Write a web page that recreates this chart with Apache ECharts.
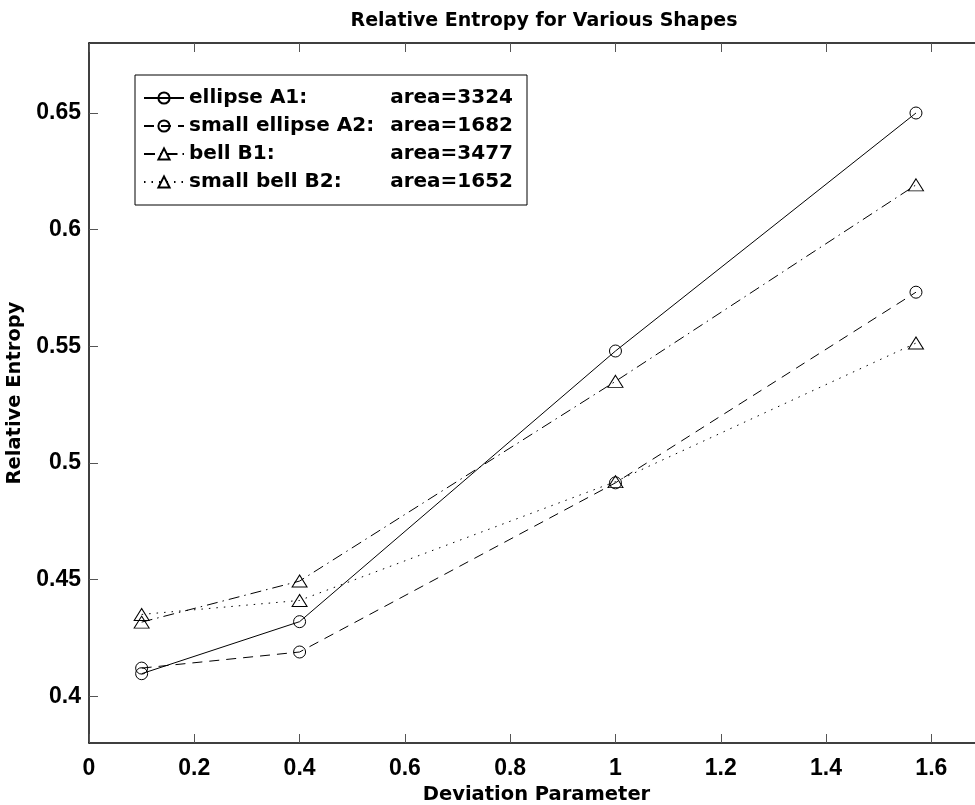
<!DOCTYPE html>
<html>
<head>
<meta charset="utf-8">
<script src="https://cdn.jsdelivr.net/npm/echarts@6/dist/echarts.min.js"></script>
<style>
  html, body { margin: 0; padding: 0; background: #fff; }
  #chart { width: 975px; height: 805px; }
</style>
</head>
<body>
<div id="chart"></div>
<script>
// deviation parameter values (x)
var devParam = [0.1, 0.4, 1.0, 1.5708];

// relative entropy per shape
var ellipseA1 = [0.4097, 0.432, 0.548, 0.650];
var smallEllipseA2 = [0.4121, 0.419, 0.4915, 0.5732];
var bellB1 = [0.4318, 0.4494, 0.535, 0.6192];
var smallBellB2 = [0.4351, 0.4411, 0.4920, 0.5514];

var seriesNames = ['ellipse A1:', 'small ellipse A2:', 'bell B1:', 'small bell B2:'];
var seriesAreas = ['area=3324', 'area=1682', 'area=3477', 'area=1652'];

var xTicks = [0, 0.2, 0.4, 0.6, 0.8, 1, 1.2, 1.4, 1.6];
var yTicks = [0.4, 0.45, 0.5, 0.55, 0.6, 0.65];

var FONT = 'Liberation Sans';
var WIDE = 'DejaVu Sans';

function pairs(ys) {
    var out = [];
    for (var i = 0; i < devParam.length; i++) out.push([devParam[i], ys[i]]);
    return out;
}

function makeSeries(idx, ys, dash, symbol, size) {
    return {
        name: seriesNames[idx],
        type: 'line',
        data: pairs(ys),
        symbol: symbol,
        symbolSize: size,
        showAllSymbol: true,
        lineStyle: { color: '#000', width: 1, type: dash },
        itemStyle: { color: 'rgba(0,0,0,0)', borderColor: '#000', borderWidth: 1 }
    };
}

var chart = echarts.init(document.getElementById('chart'));

var option = {
    backgroundColor: '#fff',
    animation: false,
    title: {
        text: 'Relative Entropy for Various Shapes',
        left: 539,
        top: 7,
        textAlign: 'center',
        textStyle: { fontFamily: WIDE, fontWeight: 'bold', fontSize: 19, color: '#000' }
    },
    legend: {
        orient: 'vertical',
        left: 135,
        top: 75,
        padding: [13, 14, 13, 8],
        itemGap: 8,
        itemWidth: 40,
        itemHeight: 14,
        backgroundColor: '#fff',
        borderColor: '#000',
        borderWidth: 1,
        borderRadius: 0,
        data: seriesNames,
        formatter: function (name) {
            var i = seriesNames.indexOf(name);
            return '{a|' + name + '}{b|' + seriesAreas[i] + '}';
        },
        textStyle: {
            fontFamily: WIDE,
            fontWeight: 'bold',
            fontSize: 20,
            color: '#000',
            rich: {
                a: { fontFamily: WIDE, fontWeight: 'bold', fontSize: 20, width: 198 },
                b: { fontFamily: WIDE, fontWeight: 'bold', fontSize: 20, width: 126, align: 'right' }
            }
        }
    },
    grid: {
        left: 89,
        top: 43,
        width: 895,
        height: 700,
        outerBoundsMode: 'none',
        containLabel: false
    },
    xAxis: [
        {
            type: 'value',
            min: 0,
            max: 1.7,
            position: 'bottom',
            name: 'Deviation Parameter',
            nameLocation: 'middle',
            nameGap: 33,
            nameTextStyle: { fontFamily: WIDE, fontWeight: 'bold', fontSize: 19.5, color: '#000' },
            axisLine: { show: true, onZero: false, lineStyle: { color: '#000', width: 1.5 } },
            axisTick: { show: true, inside: true, length: 9, customValues: xTicks, lineStyle: { color: '#555' } },
            axisLabel: {
                customValues: xTicks,
                margin: 14,
                fontFamily: FONT, fontWeight: 'bold', fontSize: 23, color: '#000',
                formatter: function (v) { return String(v); }
            },
            splitLine: { show: false }
        },
        {
            type: 'value',
            min: 0,
            max: 1.7,
            position: 'top',
            axisLine: { show: true, onZero: false, lineStyle: { color: '#000', width: 1.5 } },
            axisTick: { show: true, inside: true, length: 9, customValues: xTicks, lineStyle: { color: '#555' } },
            axisLabel: { show: false },
            splitLine: { show: false }
        }
    ],
    yAxis: {
        type: 'value',
        min: 0.38,
        max: 0.68,
        name: 'Relative Entropy',
        nameLocation: 'middle',
        nameGap: 50,
        nameRotate: 90,
        nameTextStyle: { fontFamily: WIDE, fontWeight: 'bold', fontSize: 19.5, color: '#000' },
        axisLine: { show: true, onZero: false, lineStyle: { color: '#000', width: 1.5 } },
        axisTick: { show: true, inside: true, length: 9, customValues: yTicks, lineStyle: { color: '#555' } },
        axisLabel: {
            customValues: yTicks,
            margin: 8,
            fontFamily: FONT, fontWeight: 'bold', fontSize: 23, color: '#000',
            formatter: function (v) { return String(Math.round(v * 100) / 100); }
        },
        splitLine: { show: false }
    },
    series: [
        makeSeries(0, ellipseA1, 'solid', 'circle', 12),
        makeSeries(1, smallEllipseA2, [10, 7], 'circle', 12),
        makeSeries(2, bellB1, [11, 5, 1.5, 5], 'triangle', [15, 12]),
        makeSeries(3, smallBellB2, [1.5, 6], 'triangle', [15, 12])
    ]
};

chart.setOption(option);
</script>
</body>
</html>
